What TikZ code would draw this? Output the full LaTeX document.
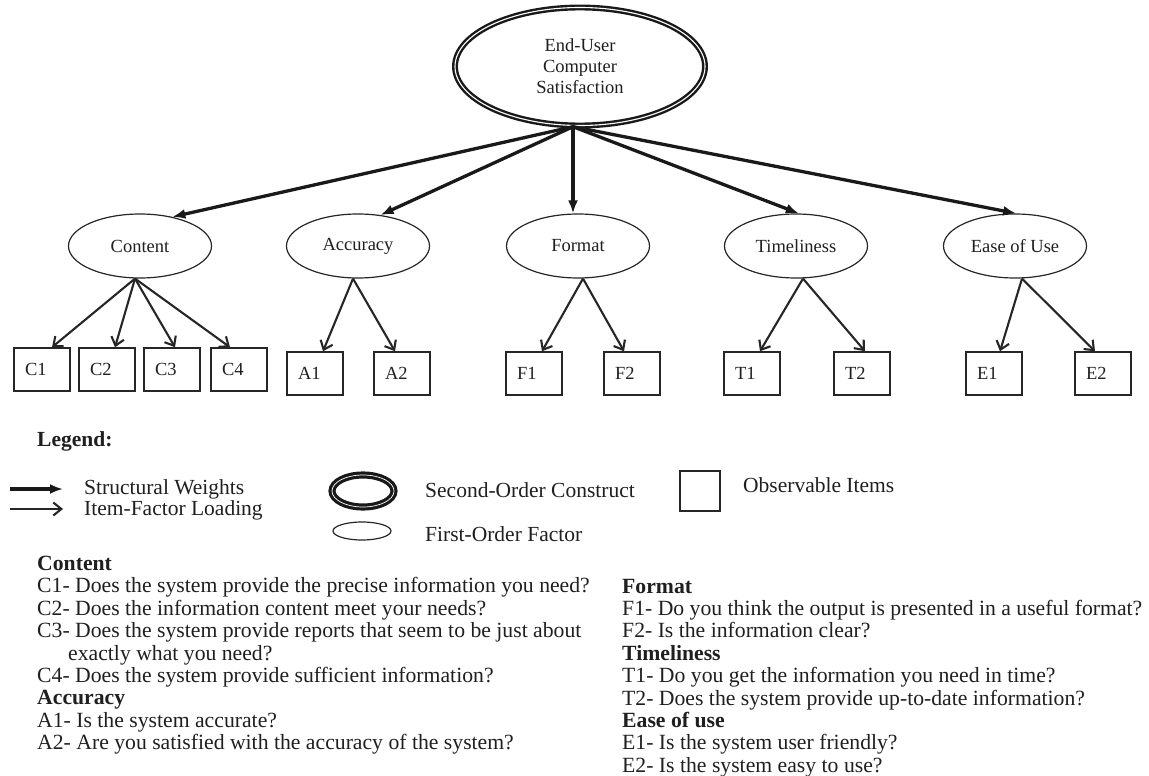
\documentclass[tikz,border=0pt]{standalone}
\usepackage{fontspec}
\setmainfont{Liberation Serif}
\usetikzlibrary{arrows.meta,shapes.geometric}
\begin{document}
\begin{tikzpicture}[x=1pt,y=-1pt,
  nodefont/.style={font=\fontsize{18.5}{21}\selectfont, text=black!88},
  soell/.style={ellipse, draw=black!90, line width=2.4pt, double=white,
    double distance=1.1pt, inner sep=0pt, align=center, nodefont},
  factorell/.style={ellipse, draw=black!85, line width=1.2pt, inner sep=0pt,
    minimum width=143pt, minimum height=64pt, nodefont},
  itembox/.style={rectangle, draw=black!85, line width=1.5pt, minimum width=56pt,
    minimum height=43pt, inner ysep=0pt, inner xsep=11pt, text width=34pt,
    align=left, nodefont},
  weightarrow/.style={draw=black!90, line width=3.3pt, -{Latex[length=13pt,width=10pt]}},
  loadarrow/.style={draw=black!85, line width=2.1pt, -{Straight Barb[length=8pt,width=13pt]}},
  legtxt/.style={anchor=base west, inner sep=0pt, font=\fontsize{21.5}{22.4}\selectfont, text=black!88},
  leghd/.style={legtxt, font=\fontsize{21.5}{22.4}\selectfont\bfseries},
  qtxt/.style={legtxt, font=\fontsize{21.7}{22.4}\selectfont},
  qhd/.style={legtxt, font=\fontsize{21.7}{22.4}\selectfont\bfseries}
]
\useasboundingbox (0,0) rectangle (1149,776);

% second-order construct
\node[soell, minimum width=250pt, minimum height=118pt] (eucs) at (580,66.5)
  {End-User\\Computer\\Satisfaction};

% first-order factors
\node[factorell] (content)  at (140,246)  {Content};
\node[factorell] (accuracy) at (358,246)  {Accuracy};
\node[factorell] (format)   at (578,246)  {Format};
\node[factorell] (timely)   at (796,246)  {Timeliness};
\node[factorell] (ease)     at (1015,246) {Ease of Use};

% observable items
\node[itembox] (c1) at (42,369.5)  {C1};
\node[itembox] (c2) at (107,369.5) {C2};
\node[itembox] (c3) at (172,369.5) {C3};
\node[itembox] (c4) at (239,369.5) {C4};
\node[itembox] (a1) at (315,373.5) {A1};
\node[itembox] (a2) at (402,373.5) {A2};
\node[itembox] (f1) at (534,373.5) {F1};
\node[itembox] (f2) at (632,373.5) {F2};
\node[itembox] (t1) at (752,373.5) {T1};
\node[itembox] (t2) at (862,373.5) {T2};
\node[itembox] (e1) at (994,373.5) {E1};
\node[itembox] (e2) at (1103,373.5) {E2};

% structural weights
\coordinate (hub) at ([xshift=-7pt]eucs.south);
\draw[weightarrow] (hub) -- (content.42);
\draw[weightarrow] (hub) -- (accuracy.54);
\draw[weightarrow] (hub) -- ([xshift=-5pt]format.north);
\draw[weightarrow] (hub) -- (timely.85);
\draw[weightarrow] (hub) -- (ease.88);

% item-factor loadings
\draw[loadarrow] ([xshift=-5pt]content.south) -- ([xshift=10pt]c1.north);
\draw[loadarrow] ([xshift=-5pt]content.south) -- ([xshift=8pt]c2.north);
\draw[loadarrow] ([xshift=-5pt]content.south) -- ([xshift=3pt]c3.north);
\draw[loadarrow] ([xshift=-5pt]content.south) -- ([xshift=-9pt]c4.north);
\draw[loadarrow] ([xshift=-5pt]accuracy.south) -- ([xshift=8pt]a1.north);
\draw[loadarrow] ([xshift=-5pt]accuracy.south) -- ([xshift=-7pt]a2.north);
\draw[loadarrow] ([xshift=5pt]format.south) -- ([xshift=8pt]f1.north);
\draw[loadarrow] ([xshift=5pt]format.south) -- ([xshift=-8pt]f2.north);
\draw[loadarrow] ([xshift=7pt]timely.south) -- ([xshift=8pt]t1.north);
\draw[loadarrow] ([xshift=7pt]timely.south) -- ([xshift=3pt]t2.north);
\draw[loadarrow] ([xshift=7pt]ease.south) -- ([xshift=6pt]e1.north);
\draw[loadarrow] ([xshift=7pt]ease.south) -- ([xshift=-8pt]e2.north);

% legend
\node[leghd] (leg) at (37,446) {Legend:};
\coordinate (lwa) at (10,489);
\coordinate (lwb) at (63,489);
\draw[weightarrow] (lwa) -- (lwb);
\node[legtxt] (lwt) at (84,494) {Structural Weights};
\coordinate (lla) at (10,509);
\coordinate (llb) at (63,509);
\draw[loadarrow] (lla) -- (llb);
\node[legtxt] (llt) at (84,515) {Item-Factor Loading};
\node[soell, line width=3.2pt, double distance=0.7pt, minimum width=62pt, minimum height=32pt] (lso) at (363,491) {};
\node[legtxt] (lsot) at (425,497) {Second-Order Construct};
\node[ellipse, draw=black!85, line width=1.2pt, inner sep=0pt, minimum width=58pt, minimum height=18pt] (lfo) at (362,531) {};
\node[legtxt] (lfot) at (425,541) {First-Order Factor};
\node[rectangle, draw=black!85, line width=1.5pt, minimum width=40pt, minimum height=40pt, inner sep=0pt] (lob) at (700,491) {};
\node[legtxt] (lobt) at (743,492) {Observable Items};

% item wording, left column
\node[qhd]  (hc)  at (37,570.5) {Content};
\node[qtxt] (qc1) at (37,592.9) {C1- Does the system provide the precise information you need?};
\node[qtxt] (qc2) at (37,615.3) {C2- Does the information content meet your needs?};
\node[qtxt] (qc3) at (37,637.7) {C3- Does the system provide reports that seem to be just about};
\node[qtxt] (qc3b) at (68,660.1) {exactly what you need?};
\node[qtxt] (qc4) at (37,682.5) {C4- Does the system provide sufficient information?};
\node[qhd]  (ha)  at (37,704.9) {Accuracy};
\node[qtxt] (qa1) at (37,727.3) {A1- Is the system accurate?};
\node[qtxt] (qa2) at (37,749.7) {A2- Are you satisfied with the accuracy of the system?};

% item wording, right column
\node[qhd]  (hf)  at (622,593) {Format};
\node[qtxt] (qf1) at (622,615.4) {F1- Do you think the output is presented in a useful format?};
\node[qtxt] (qf2) at (622,637.8) {F2- Is the information clear?};
\node[qhd]  (ht)  at (622,660.2) {Timeliness};
\node[qtxt] (qt1) at (622,682.6) {T1- Do you get the information you need in time?};
\node[qtxt] (qt2) at (622,705) {T2- Does the system provide up-to-date information?};
\node[qhd]  (he)  at (622,727.4) {Ease of use};
\node[qtxt] (qe1) at (622,749.8) {E1- Is the system user friendly?};
\node[qtxt] (qe2) at (622,772.2) {E2- Is the system easy to use?};
\end{tikzpicture}
\end{document}
